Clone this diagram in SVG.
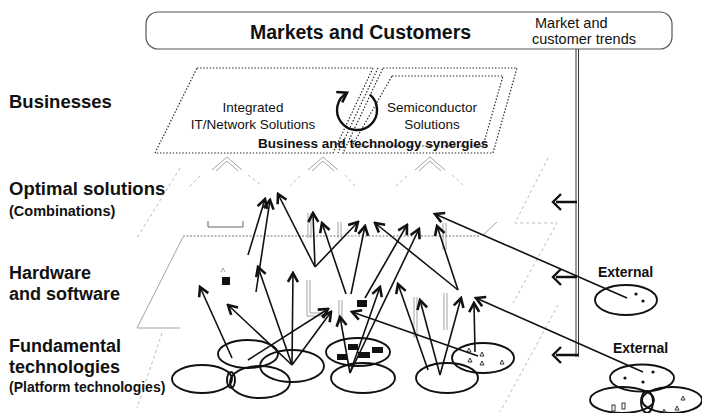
<svg xmlns="http://www.w3.org/2000/svg" width="702" height="413" viewBox="0 0 702 413">
<style>
.lbl{font-family:"Liberation Sans",Arial,sans-serif;font-weight:bold;fill:#111}
.txt{font-family:"Liberation Sans",Arial,sans-serif;fill:#111}
.dot{fill:none;stroke:#222;stroke-width:1.2;stroke-dasharray:1.4 1.8}
.faint{fill:none;stroke:#aaa;stroke-width:0.8;stroke-dasharray:3 3}
.gray{fill:none;stroke:#999;stroke-width:0.9}
.ell{fill:none;stroke:#111;stroke-width:1.9}
.con{stroke:#111;stroke-width:1.6;fill:none;marker-end:url(#ah)}
.blk{fill:#111}
.tri{fill:none;stroke:#222;stroke-width:0.9}
</style>
<defs>
<marker id="ah" viewBox="-11 -7 13 14" refX="0" refY="0" markerWidth="13" markerHeight="14" orient="auto" markerUnits="userSpaceOnUse">
<path d="M-9,-5 L0,0 L-9,5" fill="none" stroke="#111" stroke-width="2.6"/>
</marker>
<marker id="ahc" viewBox="-12 -7 14 14" refX="0" refY="0" markerWidth="14" markerHeight="14" orient="auto" markerUnits="userSpaceOnUse">
<path d="M-9,-6 L0,0 L-9,6" fill="none" stroke="#111" stroke-width="2.6"/>
</marker>
</defs>
<rect width="702" height="413" fill="#fff"/>

<g id="markets">
<rect x="146" y="12" width="526" height="37" rx="12" fill="#fff" stroke="#555" stroke-width="1.2"/>
<text class="lbl" x="250" y="39" font-size="19.5">Markets and Customers</text>
<text class="txt" x="535" y="28" font-size="14.5">Market and</text>
<text class="txt" x="532" y="44" font-size="14.5">customer trends</text>
</g>

<g id="labels">
<text class="lbl" x="9" y="108" font-size="18.5">Businesses</text>
<text class="lbl" x="9" y="195" font-size="18.5">Optimal solutions</text>
<text class="lbl" x="9" y="216" font-size="14.5">(Combinations)</text>
<text class="lbl" x="9" y="279" font-size="18">Hardware</text>
<text class="lbl" x="9" y="300" font-size="18">and software</text>
<text class="lbl" x="9" y="352" font-size="18">Fundamental</text>
<text class="lbl" x="9" y="373" font-size="18">technologies</text>
<text class="lbl" x="9" y="392" font-size="14">(Platform technologies)</text>
</g>

<g id="layers">
<path class="faint" d="M180,168 L137,238"/>
<path class="gray" d="M183,237 L137,328 H180"/>
<path class="faint" d="M162,333 L137,408"/>
<path class="faint" d="M548,158 L515,223 H557 L513,303"/>
<path class="faint" d="M558,305 L500,412"/>
<path d="M183,236 H480" fill="none" stroke="#777" stroke-width="1.2" stroke-dasharray="2 1.5"/>
<path class="gray" d="M483,235 L497,222"/>
<polyline class="gray" points="212,170 227,157 242,170"/>
<polyline class="gray" points="216,171 227,161 238,171"/>
<polyline class="gray" points="308,170 323,157 338,170"/>
<polyline class="gray" points="312,171 323,161 334,171"/>
<polyline class="gray" points="415,170 430,157 445,170"/>
<polyline class="gray" points="419,171 430,161 441,171"/>
<path class="faint" d="M200,176 L188,188 M248,175 L262,186 M300,176 L290,186 M345,175 L355,186 M407,176 L396,186 M452,175 L464,186"/>
<path d="M208,221 V227 H243 V221" fill="none" stroke="#666" stroke-width="1"/>
<path class="gray" d="M308,213 V238 M311,213 V238 M338,222 V238 M341,222 V238 M443,223 V250 M446,223 V250"/>
<path class="gray" d="M307,280 V316 H327 M310,280 V313 H327 M339,300 V323 M342,300 V323 M414,297 V338 M417,297 V338 M444,293 V330 M447,293 V330"/>
</g>

<g id="businesses">
<path class="dot" d="M197,68 H373 L333,153 H155 Z"/>
<path class="dot" d="M383,68 H517 L493,153 H343 Z"/>
<path class="dot" d="M392,76 H503 L483,146 H352 Z"/>
<path class="dot" d="M378,68 L338,153"/>
<text class="txt" x="253" y="112" font-size="13.5" text-anchor="middle">Integrated</text>
<text class="txt" x="253" y="129" font-size="13.5" text-anchor="middle">IT/Network Solutions</text>
<text class="txt" x="432" y="112" font-size="13.5" text-anchor="middle">Semiconductor</text>
<text class="txt" x="432" y="129" font-size="13.5" text-anchor="middle">Solutions</text>
<path d="M369.9,94.7 A20,20 0 1 1 347,92.7" fill="none" stroke="#111" stroke-width="2.4" marker-end="url(#ahc)"/>
<text class="lbl" x="258" y="148" font-size="13.5">Business and technology synergies</text>
</g>

<g id="trend-line">
<path d="M576,49 V357 M578.5,49 V357" stroke="#333" stroke-width="1" fill="none"/>
<path d="M561,194 L553,202 L561,210 M556,202 H577" fill="none" stroke="#111" stroke-width="2.4"/>
<path d="M561,269 L553,277 L561,285 M556,277 H577" fill="none" stroke="#111" stroke-width="2.4"/>
<path d="M561,347 L553,355 L561,363 M556,355 H578" fill="none" stroke="#111" stroke-width="2.4"/>
</g>

<g id="fundamental-left">
<ellipse class="ell" cx="202" cy="379" rx="30" ry="14"/>
<ellipse class="ell" cx="248" cy="354" rx="30" ry="14"/>
<ellipse class="ell" cx="260" cy="382" rx="30" ry="16"/>
<ellipse class="ell" cx="292" cy="366" rx="32" ry="16"/>
<ellipse class="ell" cx="231" cy="380" rx="4" ry="8"/>
</g>

<g id="fundamental-mid">
<ellipse class="ell" cx="358" cy="352" rx="32" ry="14"/>
<ellipse class="ell" cx="363" cy="378" rx="32" ry="15"/>
<rect class="blk" x="348" y="344" width="10" height="6"/>
<rect class="blk" x="337" y="354" width="10" height="6"/>
<rect class="blk" x="358" y="352" width="12" height="6"/>
<rect class="blk" x="372" y="347" width="11" height="6"/>
</g>

<g id="fundamental-right">
<ellipse class="ell" cx="447" cy="378" rx="31" ry="15"/>
<ellipse class="ell" cx="483" cy="358" rx="31" ry="15"/>
<path class="tri" d="M467,352 l2,-4 l2,4 Z M480,356 l2,-4 l2,4 Z M468,362 l2,-4 l2,4 Z M480,365 l2,-4 l2,4 Z M500,364 l2,-4 l2,4 Z"/>
</g>

<g id="hw-items">
<rect class="blk" x="222" y="277" width="8" height="8"/>
<path class="gray" d="M221,272 l2,-4 l2,4"/>
<rect class="blk" x="357" y="300" width="10" height="7"/>
</g>

<g id="external-1">
<text class="lbl" x="598" y="277" font-size="14">External</text>
<ellipse class="ell" cx="626" cy="300" rx="31" ry="15"/>
<circle class="blk" cx="636" cy="294" r="1.6"/>
<circle class="blk" cx="643" cy="301" r="1.6"/>
</g>

<g id="external-2">
<text class="lbl" x="613" y="353" font-size="14">External</text>
<ellipse class="ell" cx="642" cy="378" rx="32" ry="13.5"/>
<ellipse class="ell" cx="622" cy="400" rx="32" ry="13"/>
<ellipse class="ell" cx="672" cy="400" rx="30" ry="13"/>
<ellipse class="ell" cx="647" cy="402" rx="6" ry="11"/>
<circle class="blk" cx="653" cy="372" r="1.6"/>
<circle class="blk" cx="625" cy="378" r="1.6"/>
<circle class="blk" cx="643" cy="382" r="1.6"/>
<rect class="tri" x="612" y="405" width="3" height="6"/>
<rect class="tri" x="622" y="403" width="3" height="6"/>
<path class="tri" d="M681,400 l2,-4 l2,4 Z M675,410 l2,-4 l2,4 Z M662,413 l2,-4 l2,4 Z"/>
</g>

<g id="connectors">
<line class="con" x1="248" y1="255" x2="265" y2="199"/>
<line class="con" x1="256" y1="292" x2="270" y2="200"/>
<line class="con" x1="315" y1="267" x2="278" y2="194"/>
<line class="con" x1="315" y1="267" x2="313" y2="213"/>
<line class="con" x1="315" y1="267" x2="358" y2="222"/>
<line class="con" x1="346" y1="294" x2="322" y2="223"/>
<line class="con" x1="351" y1="294" x2="365" y2="226"/>
<line class="con" x1="458" y1="290" x2="375" y2="223"/>
<line class="con" x1="458" y1="290" x2="437" y2="226"/>
<line class="con" x1="627" y1="298" x2="435" y2="214"/>
<line class="con" x1="365" y1="298" x2="407" y2="225"/>
<line class="con" x1="350" y1="373" x2="419" y2="229"/>
<line class="con" x1="350" y1="373" x2="380" y2="287"/>
<line class="con" x1="350" y1="373" x2="340" y2="317"/>
<line class="con" x1="428" y1="370" x2="398" y2="284"/>
<line class="con" x1="440" y1="375" x2="420" y2="300"/>
<line class="con" x1="440" y1="375" x2="461" y2="298"/>
<line class="con" x1="475" y1="352" x2="474" y2="303"/>
<line class="con" x1="643" y1="372" x2="476" y2="298"/>
<line class="con" x1="478" y1="356" x2="352" y2="312"/>
<line class="con" x1="232" y1="358" x2="200" y2="287"/>
<line class="con" x1="248" y1="360" x2="328" y2="309"/>
<line class="con" x1="292" y1="365" x2="228" y2="305"/>
<line class="con" x1="292" y1="365" x2="258" y2="267"/>
<line class="con" x1="292" y1="365" x2="293" y2="273"/>
<line class="con" x1="292" y1="365" x2="331" y2="312"/>
</g>
</svg>
